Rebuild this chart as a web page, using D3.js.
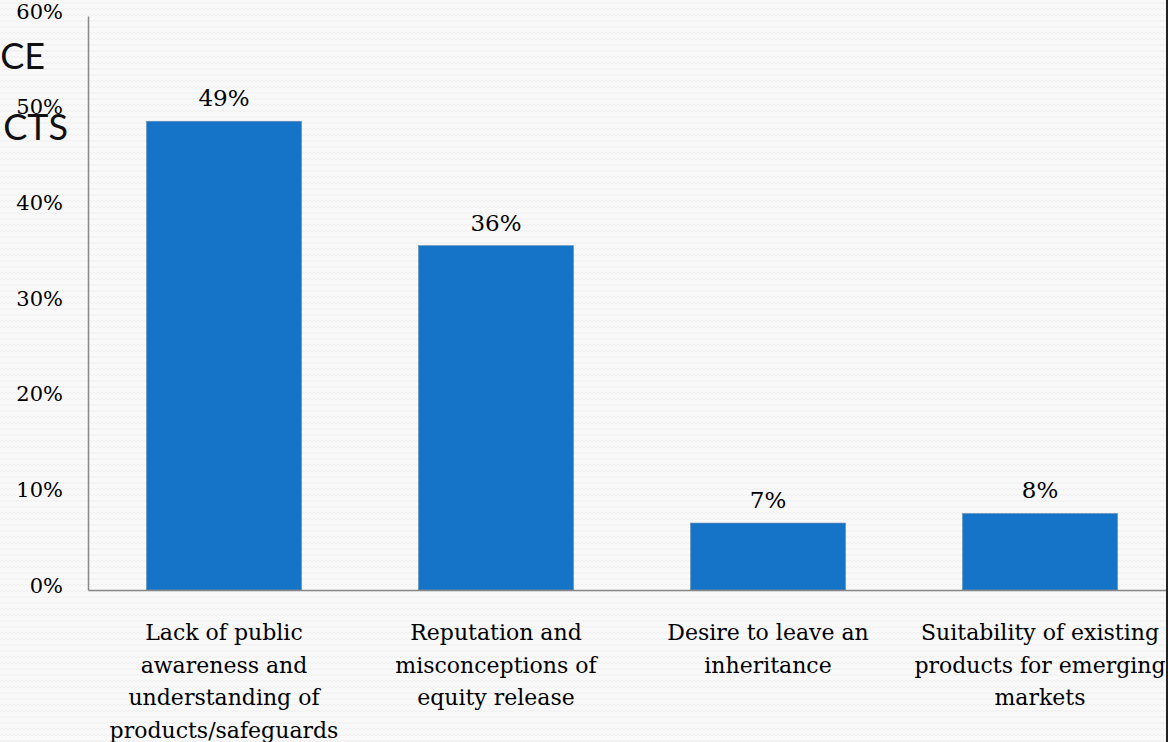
<!DOCTYPE html>
<html>
<head>
<meta charset="utf-8">
<script src="https://cdn.jsdelivr.net/npm/d3@7"></script>
<style>
  html, body { margin: 0; padding: 0; background: #f8f8f8; }
  svg { display: block; }
</style>
</head>
<body>
<svg id="chart" width="1168" height="742"></svg>
<script>
const categories = [
  "Lack of public\nawareness and\nunderstanding of\nproducts/safeguards",
  "Reputation and\nmisconceptions of\nequity release",
  "Desire to leave an\ninheritance",
  "Suitability of existing\nproducts for emerging\nmarkets"
];
const values = [0.49, 0.36, 0.07, 0.08];
const yTicks = [0, 0.1, 0.2, 0.3, 0.4, 0.5, 0.6];
const titleFragments = ["CE", "CTS"];

const W = 1168, H = 742;
const svg = d3.select("#chart");
const serif = "'DejaVu Serif', 'Liberation Serif', serif";

// textured background
const defs = svg.append("defs");
const pat = defs.append("pattern").attr("id", "tex").attr("width", 8).attr("height", 6)
  .attr("patternUnits", "userSpaceOnUse");
pat.append("rect").attr("width", 8).attr("height", 6).attr("fill", "#f9f9f9");
pat.append("path").attr("d", "M0,4 L2,2 L4,4 L6,2 L8,4").attr("fill", "none")
  .attr("stroke", "#efefef").attr("stroke-width", 1);
svg.append("rect").attr("width", W).attr("height", H).attr("fill", "url(#tex)");

const x = d3.scaleBand().domain(categories).range([88, 1176])
  .paddingInner(0.43).paddingOuter(0.215);
const y = d3.scaleLinear().domain([0, 0.6]).range([590, 16]);

// title fragments (cut off on the left)
svg.append("text").attr("x", 45).attr("y", 69).attr("text-anchor", "end")
  .attr("font-family", "'Lato', 'Open Sans', sans-serif").attr("font-size", 36)
  .attr("fill", "#111").text(titleFragments[0]);
svg.append("text").attr("x", 68).attr("y", 140).attr("text-anchor", "end")
  .attr("font-family", "'Lato', 'Open Sans', sans-serif").attr("font-size", 36)
  .attr("fill", "#111").text(titleFragments[1]);

// y axis
const yAxis = d3.axisLeft(y).tickValues(yTicks).tickSize(0).tickPadding(25)
  .tickFormat(d3.format(".0%"));
const gy = svg.append("g").attr("transform", "translate(88,0)").call(yAxis);
gy.select(".domain").attr("stroke", "#888").attr("stroke-width", 1.5);
gy.selectAll("text").attr("font-family", serif).attr("font-size", 21).attr("fill", "#000")
  .attr("dy", "0.1em");

// bars
svg.append("g").selectAll("rect").data(values).join("rect")
  .attr("x", (d, i) => x(categories[i]))
  .attr("y", d => y(d))
  .attr("width", x.bandwidth())
  .attr("height", d => y(0) - y(d))
  .attr("fill", "#1573c8")
  .attr("stroke", "#6a8db0").attr("stroke-width", 0.6);

// value labels
svg.append("g").selectAll("text").data(values).join("text")
  .attr("x", (d, i) => x(categories[i]) + x.bandwidth() / 2)
  .attr("y", d => y(d) - 15)
  .attr("text-anchor", "middle")
  .attr("font-family", serif).attr("font-size", 23).attr("fill", "#000")
  .text(d => d3.format(".0%")(d));

// x axis baseline
const xAxis = d3.axisBottom(x).tickSize(0).tickFormat("");
const gx = svg.append("g").attr("transform", "translate(0,590)").call(xAxis);
gx.select(".domain").attr("stroke", "#888").attr("stroke-width", 1.5);

// category labels
const lab = svg.append("g").selectAll("text").data(categories).join("text")
  .attr("x", d => x(d) + x.bandwidth() / 2)
  .attr("y", 640)
  .attr("text-anchor", "middle")
  .attr("font-family", serif).attr("font-size", 22).attr("fill", "#000");
lab.each(function(d) {
  const t = d3.select(this);
  d.split("\n").forEach((line, i) => {
    t.append("tspan").attr("x", x(d) + x.bandwidth() / 2).attr("y", 640 + i * 32.5).text(line);
  });
});

// right-edge frame line
svg.append("line").attr("x1", 1167).attr("x2", 1167).attr("y1", 0).attr("y2", H)
  .attr("stroke", "#222").attr("stroke-width", 2);
</script>
</body>
</html>
